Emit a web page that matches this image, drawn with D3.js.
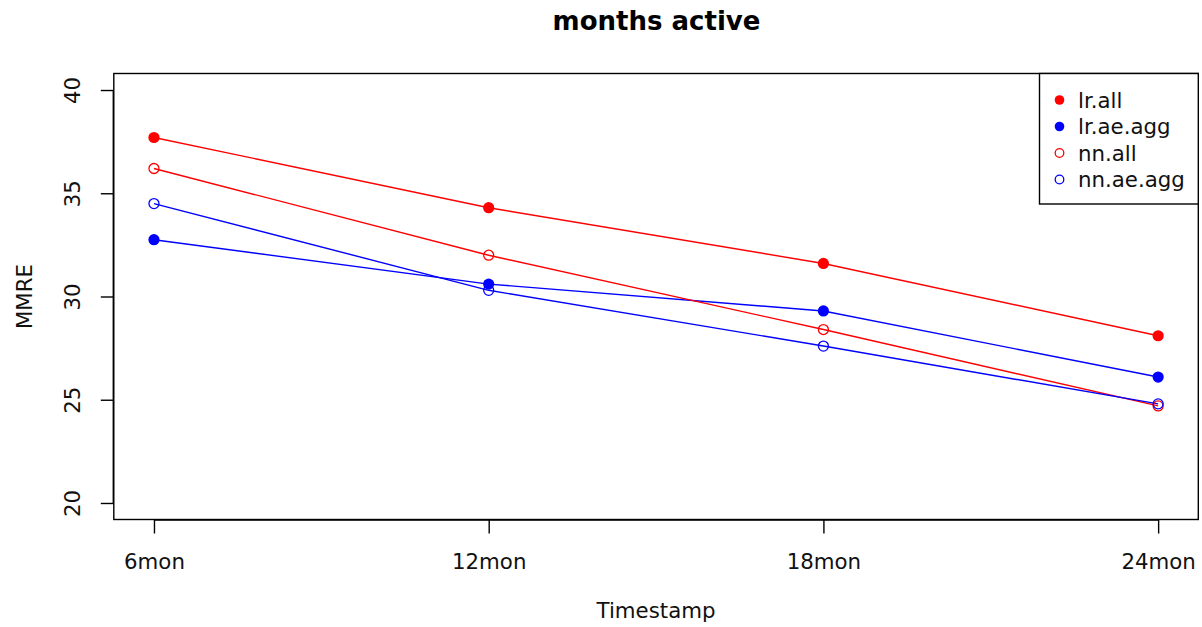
<!DOCTYPE html>
<html>
<head>
<meta charset="utf-8">
<script src="https://cdn.jsdelivr.net/npm/d3@7"></script>
<style>
  html, body { margin: 0; padding: 0; background: #fff; }
  svg { display: block; font-family: "DejaVu Sans", sans-serif; }
</style>
</head>
<body>
<svg id="chart" width="1202" height="627"></svg>
<script>
const categories = ["6mon", "12mon", "18mon", "24mon"];
const lrAll    = [37.7, 34.3, 31.6, 28.1];
const lrAeAgg  = [32.75, 30.6, 29.3, 26.1];
const nnAll    = [36.2, 32.0, 28.4, 24.7];
const nnAeAgg  = [34.5, 30.3, 27.6, 24.8];
const yTicks   = [20, 25, 30, 35, 40];
const seriesNames = ["lr.all", "lr.ae.agg", "nn.all", "nn.ae.agg"];

const series = [
  { name: seriesNames[0], values: lrAll,   color: "#ff0000", filled: true },
  { name: seriesNames[1], values: lrAeAgg, color: "#0000ff", filled: true },
  { name: seriesNames[2], values: nnAll,   color: "#ff0000", filled: false },
  { name: seriesNames[3], values: nnAeAgg, color: "#0000ff", filled: false }
];

const svg = d3.select("#chart");
const pLeft = 113.8, pRight = 1198.3, pTop = 73.5, pBottom = 519.5;
const fs = 21.3;

const n = categories.length;
const pad = 0.04 * (n - 1);
const x = d3.scaleLinear().domain([1 - pad, n + pad]).range([pLeft, pRight]);
const yMin = 20, yMax = 40, yPad = 0.04 * (yMax - yMin);
const y = d3.scaleLinear().domain([yMin - yPad, yMax + yPad]).range([pBottom, pTop]);

// Lines and points
const line = d3.line().x((d, i) => x(i + 1)).y(d => y(d));
series.forEach(s => {
  svg.append("path")
    .attr("d", line(s.values))
    .attr("fill", "none")
    .attr("stroke", s.color)
    .attr("stroke-width", 1.4);
});
series.forEach(s => {
  svg.selectAll(null).data(s.values).enter().append("circle")
    .attr("cx", (d, i) => x(i + 1))
    .attr("cy", d => y(d))
    .attr("r", s.filled ? 5.6 : 5)
    .attr("fill", s.filled ? s.color : "none")
    .attr("stroke", s.color)
    .attr("stroke-width", s.filled ? 0 : 1.3);
});

// Plot box
svg.append("rect")
  .attr("x", pLeft).attr("y", pTop)
  .attr("width", pRight - pLeft).attr("height", pBottom - pTop)
  .attr("fill", "none").attr("stroke", "#000").attr("stroke-width", 1.4);

// X axis
const xAxis = d3.axisBottom(x)
  .tickValues(d3.range(1, n + 1))
  .tickFormat(d => categories[d - 1])
  .tickSize(14).tickPadding(20);
const gx = svg.append("g").attr("transform", `translate(0,${pBottom})`).call(xAxis);
gx.select(".domain").attr("d", `M${x(1)},0.5H${x(n)}`).attr("stroke-width", 1.4);
gx.selectAll(".tick line").attr("stroke-width", 1.4);
gx.selectAll(".tick text").attr("font-size", fs).attr("fill", "#111")
  .attr("font-family", "DejaVu Sans");

// Y axis
const yAxis = d3.axisLeft(y).tickValues(yTicks).tickSize(13).tickPadding(0);
const gy = svg.append("g").attr("transform", `translate(${pLeft},0)`).call(yAxis);
gy.select(".domain").attr("d", `M-0.5,${y(yMin)}V${y(yMax)}`).attr("stroke-width", 1.4);
gy.selectAll(".tick line").attr("stroke-width", 1.4);
gy.selectAll(".tick text")
  .attr("x", null).attr("dy", null)
  .attr("font-size", fs).attr("fill", "#111")
  .attr("font-family", "DejaVu Sans")
  .attr("text-anchor", "middle")
  .attr("transform", "translate(-34,0) rotate(-90)");

// Title
svg.append("text")
  .attr("x", 656.5).attr("y", 30)
  .attr("text-anchor", "middle")
  .attr("font-size", 26).attr("font-weight", "bold")
  .attr("fill", "#000")
  .text("months active");

// Axis titles
svg.append("text")
  .attr("x", (pLeft + pRight) / 2).attr("y", 618)
  .attr("text-anchor", "middle")
  .attr("font-size", fs).attr("fill", "#111")
  .text("Timestamp");
svg.append("text")
  .attr("transform", `translate(32,${(pTop + pBottom) / 2}) rotate(-90)`)
  .attr("text-anchor", "middle")
  .attr("font-size", fs).attr("fill", "#111")
  .text("MMRE");

// Legend
const lgX = 1039.5, lgY = pTop, lgW = pRight - lgX, lgH = 130.5;
svg.append("rect")
  .attr("x", lgX).attr("y", lgY).attr("width", lgW).attr("height", lgH)
  .attr("fill", "#fff").attr("stroke", "#000").attr("stroke-width", 1.4);
series.forEach((s, i) => {
  const cy = 100 + i * 26.5;
  svg.append("circle")
    .attr("cx", 1059.5).attr("cy", cy)
    .attr("r", s.filled ? 4.8 : 4.3)
    .attr("fill", s.filled ? s.color : "none")
    .attr("stroke", s.color)
    .attr("stroke-width", s.filled ? 0 : 1.3);
  svg.append("text")
    .attr("x", 1078).attr("y", cy + 7.5)
    .attr("font-size", fs).attr("fill", "#111")
    .text(s.name);
});
</script>
</body>
</html>
